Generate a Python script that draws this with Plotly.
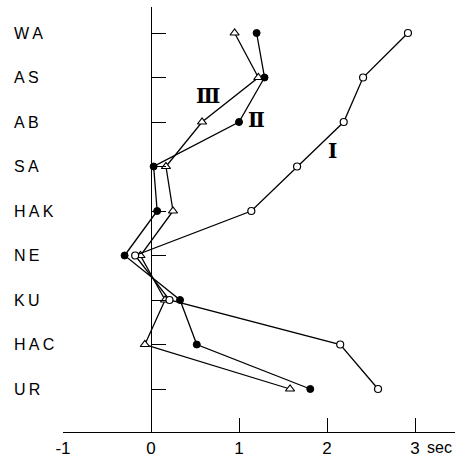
import plotly.graph_objects as go

categories = ["WA", "AS", "AB", "SA", "HAK", "NE", "KU", "HAC", "UR"]
series_I = [2.92, 2.41, 2.19, 1.66, 1.14, -0.18, 0.21, 2.15, 2.58]
series_II = [1.20, 1.29, 1.00, 0.03, 0.07, -0.30, 0.33, 0.52, 1.81]
series_III = [0.95, 1.22, 0.58, 0.17, 0.25, -0.12, 0.16, -0.07, 1.58]
x_ticks = [-1, 0, 1, 2, 3]
x_ticktext = ["-1", "0", "1", "2", "3"]

idx = list(range(len(categories)))

fig = go.Figure()
line = dict(color="black", width=1.3)
fig.add_trace(go.Scatter(x=series_III, y=idx, mode="lines+markers", yaxis="y2",
                         line=line,
                         marker=dict(symbol="triangle-up", size=8, color="white",
                                     line=dict(color="black", width=1.2))))
fig.add_trace(go.Scatter(x=series_II, y=idx, mode="lines+markers", yaxis="y2",
                         line=line,
                         marker=dict(symbol="circle", size=7, color="black",
                                     line=dict(color="black", width=1))))
fig.add_trace(go.Scatter(x=series_I, y=idx, mode="lines+markers", yaxis="y2",
                         line=line,
                         marker=dict(symbol="circle", size=7, color="white",
                                     line=dict(color="black", width=1.2))))

W, H = 455, 459
ml, mr, mt = 63, 0, 7
plot_bottom = 432
mb = H - plot_bottom
pw = W - ml - mr
ph = H - mt - mb
x0_px = 151
unit = 88.0
xmax = (W - x0_px) / unit
ytop = (mt - 33) / 44.5
ybot = (plot_bottom - 33) / 44.5

annotations = []
for c, k in zip(categories, idx):
    annotations.append(dict(text="\u2009".join(c), xref="paper", yref="y2",
                            x=(12 - ml) / pw, y=k,
                            xanchor="left", yanchor="middle", showarrow=False,
                            font=dict(family="Liberation Sans", size=16, color="black")))
for t, xv, yv in [("Ⅲ", 0.65, 1.42), ("Ⅱ", 1.20, 1.96), ("Ⅰ", 2.06, 2.65)]:
    annotations.append(dict(text="<b>" + t + "</b>", xref="x", yref="y2", x=xv, y=yv,
                            showarrow=False, xanchor="center", yanchor="middle",
                            font=dict(family="DejaVu Serif", size=20, color="black")))
annotations.append(dict(text="sec", xref="x", yref="paper", x=3.11,
                        y=-(447 - plot_bottom) / ph,
                        xanchor="left", yanchor="middle", showarrow=False,
                        font=dict(family="Liberation Sans", size=16, color="black")))

fig.update_layout(
    width=W, height=H,
    margin=dict(l=ml, r=mr, t=mt, b=mb, pad=0),
    paper_bgcolor="white", plot_bgcolor="white",
    showlegend=False,
    xaxis=dict(range=[-1, xmax], showgrid=False, zeroline=False,
               showline=True, linecolor="black", linewidth=1.3,
               ticks="inside", ticklen=14, tickwidth=1.2, tickcolor="black",
               tickvals=x_ticks, ticktext=x_ticktext,
               tickfont=dict(family="Liberation Sans", size=17, color="black")),
    yaxis=dict(range=[ybot, ytop], showgrid=False, zeroline=False,
               showticklabels=False, showline=False, ticks=""),
    yaxis2=dict(range=[ybot, ytop], overlaying="y", anchor="free",
                position=(x0_px - ml) / pw, side="right",
                showgrid=False, zeroline=False, showticklabels=False,
                showline=True, linecolor="black", linewidth=1.3,
                ticks="outside", ticklen=14, tickwidth=1.2, tickcolor="black",
                tickvals=idx),
    annotations=annotations,
)

fig.write_html(
    "out.html",
    config={"displayModeBar": False},
    post_script="document.body.style.margin='0';document.body.style.overflow='hidden';",
)
